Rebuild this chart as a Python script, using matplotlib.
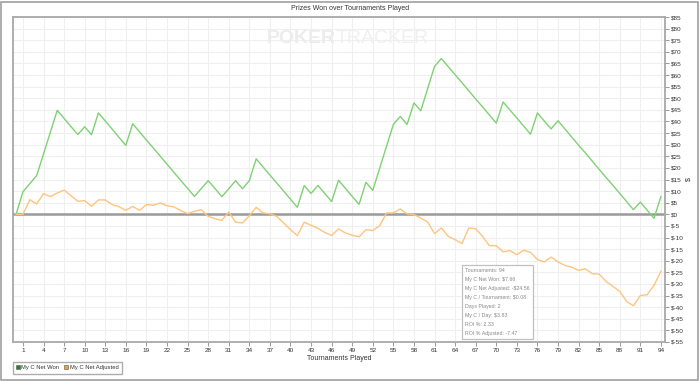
import numpy as np
import matplotlib
matplotlib.use("Agg")
import matplotlib.pyplot as plt
from matplotlib.ticker import FuncFormatter
from matplotlib.lines import Line2D
from matplotlib.patches import Rectangle

plt.rcParams["font.family"] = ["Liberation Sans", "DejaVu Sans"]

# tournaments 0..94
tournaments = np.arange(0, 95)

net_won = [
    0, 9.7, 13.2, 16.7, 26.0, 35.4, 44.8, 41.3, 37.8, 34.4,
    37.7, 34.3, 43.7, 40.2, 36.7, 33.2, 29.7, 39.0, 35.5, 32.0,
    28.6, 25.1, 21.6, 18.1, 14.6, 11.2, 7.7, 11.1, 14.5, 11.1,
    7.6, 11.0, 14.5, 11.0, 14.5, 23.9, 20.4, 16.9, 13.5, 10.0,
    6.5, 3.0, 12.4, 9.0, 12.4, 9.0, 5.5, 14.7, 11.2, 7.7,
    4.3, 13.8, 10.3, 19.8, 29.3, 38.7, 42.2, 38.7, 48.0, 44.6,
    54.2, 63.7, 67.1, 63.6, 60.2, 56.7, 53.2, 49.7, 46.3, 42.8,
    39.3, 48.4, 44.9, 41.5, 38.0, 34.5, 43.7, 40.2, 36.8, 40.3,
    36.8, 33.3, 29.8, 26.4, 22.9, 19.4, 15.9, 12.5, 9.0, 5.5,
    2.0, 5.3, 1.8, -1.7, 7.66,
]

net_adjusted = [
    0, 0, 6.3, 4.5, 8.9, 7.6, 9.2, 10.4, 8.0, 5.6,
    5.9, 3.5, 6.2, 6.2, 4.2, 3.3, 1.7, 3.4, 1.7, 4.2,
    3.9, 4.9, 3.7, 3.2, 1.6, 0.3, 1.3, 2.0, -0.9, -1.9,
    -2.6, 1.0, -3.4, -3.7, -0.6, 3.0, 0.6, 0.2, -0.9, -3.7,
    -6.6, -9.2, -3.4, -4.7, -6.0, -7.8, -9.1, -6.3, -8.0, -9.0,
    -9.7, -6.6, -7.0, -4.9, 0.6, 0.6, 2.3, 0.2, -0.1, -1.6,
    -3.3, -8.3, -5.9, -9.5, -10.9, -12.6, -5.9, -6.2, -9.5, -13.5,
    -13.5, -16.2, -15.6, -17.4, -15.5, -16.4, -19.5, -20.5, -18.4, -20.5,
    -22.0, -22.8, -24.1, -23.5, -25.6, -25.7, -28.9, -31.0, -33.2, -37.5,
    -39.4, -35.0, -34.6, -30.6, -24.56,
]

x_ticks = list(range(1, 95, 3))
y_ticks = list(range(-55, 90, 5))

summary_lines = [
    "Tournaments: 94",
    "My C Net Won: $7.66",
    "My C Net Adjusted: -$24.56",
    "My C / Tournament: $0.08",
    "Days Played: 2",
    "My C / Day: $3.83",
    "ROI %: 2.33",
    "ROI % Adjusted: -7.47",
]

W, H = 700, 381
fig = plt.figure(figsize=(7, 3.81), dpi=100, facecolor="white")
ax = fig.add_axes([13 / W, 1 - 342 / H, (665 - 13) / W, (342 - 17) / H])

grid_c = "#efefef"
ax.set_xticks(x_ticks)
ax.set_yticks(y_ticks)
ax.grid(True, color=grid_c, lw=0.8)
ax.set_axisbelow(True)

ax.axhline(0, color="#9a9a9a", lw=1.8, zorder=2)
ax.plot(tournaments, net_won, color="#7fd174", lw=1.0, zorder=3)
ax.plot(tournaments, net_adjusted, color="#ffc47e", lw=1.0, zorder=3)

ax.set_xlim(-0.45, 94.6)
ax.set_ylim(-55, 85)

ax.yaxis.tick_right()
ax.yaxis.set_label_position("right")
ax.yaxis.set_major_formatter(FuncFormatter(lambda v, p: "$%d" % v))
ax.tick_params(labelsize=4.6, colors="#333333", length=3, width=0.6, pad=1.2)
ax.tick_params(axis="y", color="#888888")
ax.tick_params(axis="x", color="#888888")
ax.set_ylabel("$", fontsize=5, color="#333333", labelpad=1)
ax.set_xlabel("Tournaments Played", fontsize=5, color="#333333", labelpad=1.5)

for s in ax.spines.values():
    s.set_color("#a8a8a8")
    s.set_linewidth(1.3)

# title
fig.text(0.5, 1 - 9 / H, "Prizes Won over Tournaments Played", ha="center",
         va="center", fontsize=5, color="#333333")

# watermark
ax.text(0.495, 0.935, "POKER", transform=ax.transAxes, ha="right", va="center",
        fontsize=14, fontweight="bold", color="#ececec", zorder=1)
ax.text(0.495, 0.935, "TRACKER", transform=ax.transAxes, ha="left", va="center",
        fontsize=14, color="#f0f0f0", zorder=1)

# summary box
fig.text(465 / W, 1 - 268 / H, "\n".join(summary_lines), ha="left", va="top",
         fontsize=3.8, color="#888888", linespacing=2.0,
         bbox=dict(boxstyle="square,pad=0.6", facecolor="white",
                   edgecolor="#c0c0c0", lw=0.9))

# legend
handles = [
    Line2D([], [], ls="none", marker="s", markersize=3.3, markerfacecolor="#1e8a1e",
           markeredgecolor="#555555", markeredgewidth=0.4, label="My C Net Won"),
    Line2D([], [], ls="none", marker="s", markersize=3.3, markerfacecolor="#f0a030",
           markeredgecolor="#555555", markeredgewidth=0.4, label="My C Net Adjusted"),
]
leg = fig.legend(handles=handles, loc="lower left",
                 bbox_to_anchor=(13 / W, 1 - 374 / H), ncol=2, fontsize=4.2,
                 frameon=True, fancybox=False, edgecolor="#999999",
                 handlelength=0.5, handletextpad=0.3, columnspacing=1.0,
                 borderpad=0.6, borderaxespad=0, labelcolor="#333333")
leg.get_frame().set_linewidth(1.0)

# outer border
fig.patches.append(Rectangle((1 / W, 1 / H), 697 / W, 378 / H,
                             transform=fig.transFigure, fill=False,
                             edgecolor="#a0a0a0", lw=1.2))

fig.savefig("out.png", dpi=100)
